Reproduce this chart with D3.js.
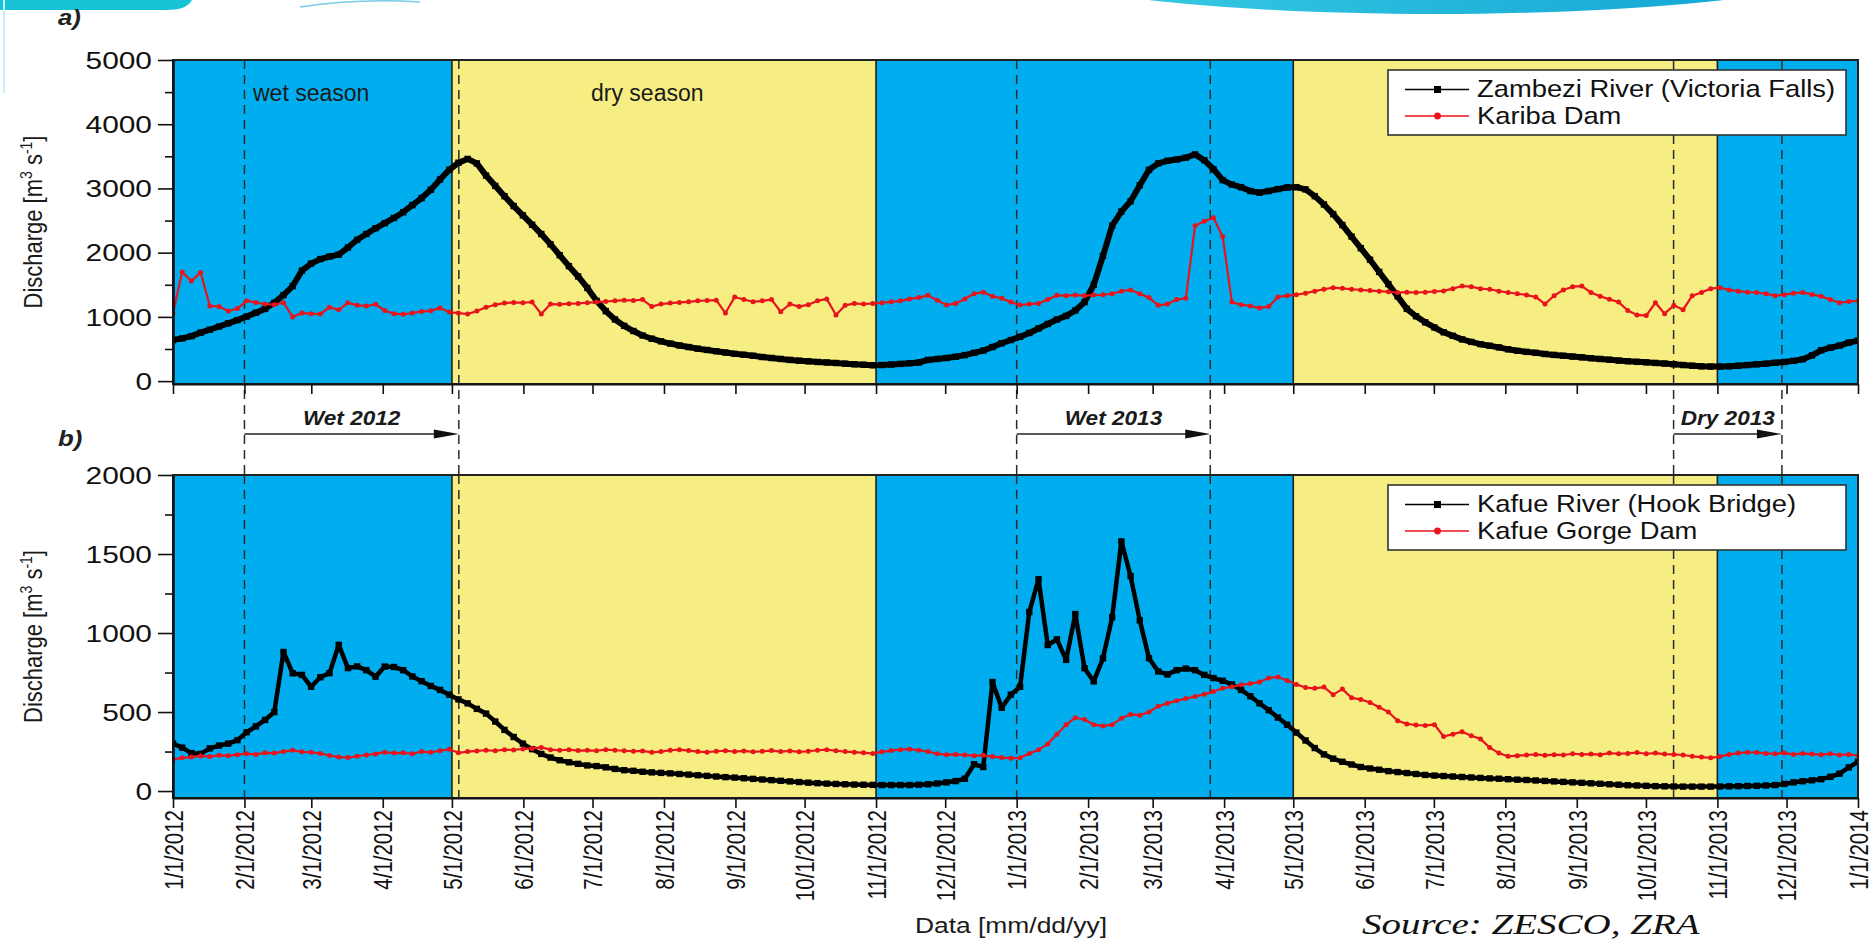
<!DOCTYPE html>
<html>
<head>
<meta charset="utf-8">
<script src="https://cdn.jsdelivr.net/npm/d3@7"></script>
<style>
  body { margin: 0; background: #fff; }
  svg { display: block; font-family: "Liberation Sans", Arial, sans-serif; }
</style>
</head>
<body>
<svg id="chart"></svg>
<script>
// Discharge [m3/s], one value every ~4 days from 1/1/2012 to 1/1/2014 (184 samples)
const zambeziQ = [
  640, 665, 700, 755, 800, 850, 900, 950, 1005, 1065,
  1125, 1220, 1340, 1480, 1720, 1830, 1900, 1940, 1970, 2080,
  2200, 2290, 2380, 2460, 2540, 2630, 2740, 2850, 2980, 3140,
  3290, 3400, 3460, 3390, 3200, 3040, 2880, 2725, 2580, 2435,
  2290, 2130, 1960, 1790, 1630, 1450, 1250, 1090, 960, 860,
  780, 710, 660, 620, 585, 555, 530, 505, 485, 465,
  445, 425, 410, 395, 375, 360, 345, 330, 318, 308,
  298, 290, 282, 272, 262, 255, 248, 250, 258, 268,
  278, 290, 330, 345, 360, 380, 405, 440, 475, 530,
  590, 640, 690, 750, 820, 890, 960, 1015, 1100, 1230,
  1500, 1950, 2420, 2640, 2800, 3050, 3290, 3390, 3430, 3450,
  3480, 3530, 3440, 3300, 3130, 3060, 3020, 2960, 2935, 2960,
  2990, 3015, 3020, 2985, 2880, 2750, 2600, 2430, 2250, 2070,
  1890, 1700, 1510, 1320, 1125, 1010, 915, 835, 760, 705,
  650, 610, 575, 550, 525, 495, 472, 455, 440, 422,
  408, 395, 382, 370, 357, 345, 333, 320, 310, 300,
  292, 283, 273, 262, 250, 240, 230, 226, 226, 230,
  240, 250, 262, 272, 285, 298, 315, 340, 400, 480,
  520, 553, 600, 630
];

const karibaQ = [
  1060, 1700, 1560, 1690, 1170, 1160, 1090, 1130, 1250, 1225,
  1200, 1190, 1220, 1000, 1060, 1050, 1045, 1150, 1110, 1220,
  1180, 1170, 1195, 1100, 1050, 1040, 1060, 1085, 1095, 1140,
  1075, 1060, 1045, 1090, 1150, 1190, 1215, 1225, 1220, 1230,
  1045, 1200, 1195, 1205, 1210, 1220, 1230, 1240, 1250, 1260,
  1255, 1270, 1160, 1200, 1215, 1225, 1235, 1250, 1255, 1260,
  1060, 1310, 1270, 1235, 1250, 1270, 1080, 1200, 1160, 1190,
  1250, 1280, 1030, 1180, 1210, 1200, 1210, 1220, 1235, 1250,
  1280, 1300, 1335, 1260, 1185, 1210, 1280, 1360, 1385, 1320,
  1290, 1230, 1185, 1200, 1210, 1270, 1335, 1330, 1340, 1330,
  1340, 1345, 1360, 1400, 1420, 1360, 1300, 1180, 1200, 1270,
  1290, 2420, 2490, 2545, 2250, 1230, 1190, 1170, 1140, 1160,
  1310, 1330, 1345, 1370, 1400, 1430, 1455, 1445, 1430, 1420,
  1410, 1400, 1390, 1380, 1385, 1380, 1385, 1395, 1405, 1440,
  1480, 1470, 1440, 1430, 1400, 1380, 1360, 1340, 1310, 1200,
  1330, 1420, 1470, 1480, 1380, 1320, 1275, 1230, 1100, 1030,
  1020, 1220, 1050, 1180, 1110, 1330, 1380, 1440, 1455, 1420,
  1400, 1385, 1380, 1360, 1330, 1345, 1370, 1380, 1350, 1320,
  1270, 1220, 1240, 1250
];

const kafueQ = [
  300, 275, 240, 235, 270, 288, 300, 322, 372, 409,
  450, 500, 880, 745, 735, 660, 720, 746, 925, 778,
  789, 765, 724, 788, 785, 765, 725, 695, 665, 640,
  610, 580, 555, 520, 490, 440, 387, 342, 300, 265,
  235, 212, 195, 182, 172, 162, 158, 150, 140, 132,
  128, 122, 118, 115, 112, 108, 104, 100, 96, 92,
  88, 85, 81, 77, 73, 69, 65, 61, 57, 53,
  50, 47, 45, 43, 41, 40, 39, 38, 38, 38,
  38, 40, 43, 48, 55, 63, 78, 170, 152, 690,
  527, 610, 660, 1133, 1340, 924, 960, 830, 1120, 777,
  694, 840, 1100, 1580, 1360, 1080, 840, 757, 738, 765,
  775, 765, 735, 715, 698, 675, 640, 600, 555, 512,
  465, 420, 370, 320, 272, 232, 205, 185, 168, 152,
  143, 135, 126, 120, 114, 108, 102, 98, 95, 92,
  89, 86, 83, 80, 78, 75, 72, 70, 67, 64,
  61, 58, 55, 52, 49, 46, 43, 40, 37, 35,
  33, 31, 30, 29, 28, 28, 28, 28, 29, 30,
  31, 32, 33, 35, 38, 45, 55, 62, 68, 75,
  90, 110, 150, 185
];

const kafueGorgeQ = [
  200, 210, 215, 222, 218, 226, 224, 230, 236, 232,
  242, 240, 250, 258, 248, 245, 238, 225, 215, 212,
  220, 228, 235, 246, 240, 242, 236, 250, 245, 255,
  264, 242, 250, 254, 258, 255, 262, 260, 266, 270,
  276, 262, 258, 262, 256, 258, 255, 262, 258, 255,
  252, 254, 245, 250, 258, 262, 256, 250, 246, 252,
  255, 250, 254, 248, 252, 256, 250, 254, 248, 252,
  258, 262, 255, 250, 246, 242, 238, 248, 256, 262,
  265, 258, 250, 236, 230, 232, 228, 224, 226, 218,
  212, 208, 210, 238, 262, 297, 360, 420, 464, 453,
  420, 412, 420, 460, 485, 480, 500, 537, 555, 572,
  585, 598, 612, 630, 650, 660, 672, 680, 690, 715,
  722, 700, 675, 655, 650, 658, 610, 645, 590, 580,
  560, 530, 500, 445, 425, 418, 415, 420, 345, 360,
  375, 350, 330, 275, 240, 220, 224, 228, 232, 226,
  230, 228, 236, 232, 234, 230, 240, 236, 238, 244,
  236, 240, 234, 232, 228, 220, 215, 210, 218, 232,
  240, 245, 244, 238, 236, 240, 232, 238, 234, 230,
  236, 228, 232, 225
];

// Seasons shaded behind both panels
const seasonStarts = ["2012-01-01", "2012-05-01", "2012-11-01", "2013-05-01", "2013-11-01"];
const seasonEnds = ["2012-05-01", "2012-11-01", "2013-05-01", "2013-11-01", "2014-01-01"];
const seasonKinds = ["wet", "dry", "wet", "dry", "wet"];

// Study periods (dashed guides + arrows)
const periodLabels = ["Wet 2012", "Wet 2013", "Dry 2013"];
const periodStarts = ["2012-02-01", "2013-01-01", "2013-10-13"];
const periodEnds = ["2012-05-04", "2013-03-26", "2013-11-29"];

const yTicksA = [0, 1000, 2000, 3000, 4000, 5000];
const yMinorA = [500, 1500, 2500, 3500, 4500];
const yTicksB = [0, 500, 1000, 1500, 2000];
const yMinorB = [250, 750, 1250, 1750];

const WET_BLUE = "#00aeef";
const DRY_YELLOW = "#f6ed83";
const RED = "#e8141c";

// the source figure is stretched sideways, so text is widened a bit
const SX_TICK = 1.3, SX_DATE = 1.25, SX_TITLE = 1.15, SX_LEGEND = 1.14, SX_NOTE = 1.13;

const parseDate = d3.timeParse("%Y-%m-%d");
const startDate = parseDate("2012-01-01");
const endDate = parseDate("2014-01-01");
const stepMs = (endDate - startDate) / (zambeziQ.length - 1);
const toSeries = values => values.map((v, i) => ({ date: new Date(+startDate + i * stepMs), value: v }));

const seasons = seasonStarts.map((s, i) => ({ start: parseDate(s), end: parseDate(seasonEnds[i]), kind: seasonKinds[i] }));
const guideDates = periodStarts.concat(periodEnds).map(parseDate);

const x = d3.scaleTime().domain([startDate, endDate]).range([173, 1858]);

const svg = d3.select("#chart").attr("width", 1876).attr("height", 944);
svg.append("rect").attr("width", 1876).attr("height", 944).attr("fill", "#fff");

class DischargePanel {
  constructor(_config, _data) {
    this.config = {
      parentElement: _config.parentElement,
      id: _config.id,
      top: _config.top,
      bottom: _config.bottom,
      yDomain: _config.yDomain,
      yMajor: _config.yMajor,
      yMinor: _config.yMinor,
      guideBottom: _config.guideBottom,
      showDates: _config.showDates || false,
      panelLabel: _config.panelLabel,
      panelLabelY: _config.panelLabelY,
      legendTop: _config.legendTop,
      notes: _config.notes || []
    };
    this.data = _data;
    this.initVis();
  }

  initVis() {
    let vis = this;
    const c = vis.config;

    vis.y = d3.scaleLinear().domain(c.yDomain).range([c.bottom, c.top]);
    vis.left = x.range()[0];
    vis.right = x.range()[1];

    vis.g = c.parentElement.append("g").attr("class", "panel panel-" + c.id);

    vis.g.append("clipPath").attr("id", "clip-" + c.id)
      .append("rect")
      .attr("x", vis.left)
      .attr("y", c.top)
      .attr("width", vis.right - vis.left)
      .attr("height", c.bottom - c.top);

    vis.bandLayer = vis.g.append("g");
    vis.guideLayer = vis.g.append("g");
    vis.seriesLayer = vis.g.append("g").attr("clip-path", `url(#clip-${c.id})`);
    vis.frameLayer = vis.g.append("g");
    vis.legendLayer = vis.g.append("g");

    vis.line = d3.line()
      .x(d => x(d.date))
      .y(d => vis.y(d.value));

    vis.renderVis();
  }

  renderVis() {
    let vis = this;
    const c = vis.config;

    // season shading
    vis.bandLayer.selectAll(".band")
      .data(seasons)
      .join("rect")
      .attr("class", "band")
      .attr("x", d => x(d.start))
      .attr("y", c.top)
      .attr("width", d => x(d.end) - x(d.start))
      .attr("height", c.bottom - c.top)
      .attr("fill", d => d.kind === "wet" ? WET_BLUE : DRY_YELLOW);

    vis.bandLayer.selectAll(".season-edge")
      .data(seasons.slice(1))
      .join("line")
      .attr("class", "season-edge")
      .attr("x1", d => x(d.start))
      .attr("x2", d => x(d.start))
      .attr("y1", c.top)
      .attr("y2", c.bottom)
      .attr("stroke", "#1c1c1c")
      .attr("stroke-width", 1.6);

    vis.bandLayer.selectAll(".season-note")
      .data(c.notes)
      .join("text")
      .attr("class", "season-note")
      .attr("x", d => d.x)
      .attr("y", d => d.y)
      .attr("font-size", 23)
      .attr("fill", "#1a1a1a")
      .text(d => d.text);

    // dashed period guides
    vis.guideLayer.selectAll(".guide")
      .data(guideDates)
      .join("line")
      .attr("class", "guide")
      .attr("x1", d => x(d))
      .attr("x2", d => x(d))
      .attr("y1", c.top)
      .attr("y2", c.guideBottom)
      .attr("stroke", "#2a2a2a")
      .attr("stroke-width", 1.5)
      .attr("stroke-dasharray", "9,6");

    // river (black, square markers)
    vis.seriesLayer.append("path")
      .datum(vis.data.river.values)
      .attr("d", vis.line)
      .attr("fill", "none")
      .attr("stroke", "#000")
      .attr("stroke-width", vis.data.river.width)
      .attr("stroke-linejoin", "round");

    vis.seriesLayer.selectAll(".river-pt")
      .data(vis.data.river.values)
      .join("rect")
      .attr("class", "river-pt")
      .attr("x", d => x(d.date) - 3.2)
      .attr("y", d => vis.y(d.value) - 3.2)
      .attr("width", 6.4)
      .attr("height", 6.4)
      .attr("fill", "#000");

    // dam outflow (red, round markers)
    vis.seriesLayer.append("path")
      .datum(vis.data.dam.values)
      .attr("d", vis.line)
      .attr("fill", "none")
      .attr("stroke", RED)
      .attr("stroke-width", 2.2)
      .attr("stroke-linejoin", "round");

    vis.seriesLayer.selectAll(".dam-pt")
      .data(vis.data.dam.values)
      .join("circle")
      .attr("class", "dam-pt")
      .attr("cx", d => x(d.date))
      .attr("cy", d => vis.y(d.value))
      .attr("r", 2.5)
      .attr("fill", RED);

    // frame
    vis.frameLayer.append("rect")
      .attr("x", vis.left)
      .attr("y", c.top)
      .attr("width", vis.right - vis.left)
      .attr("height", c.bottom - c.top)
      .attr("fill", "none")
      .attr("stroke", "#222")
      .attr("stroke-width", 2);

    // y axis
    const yAxis = d3.axisLeft(vis.y)
      .tickValues(c.yMajor)
      .tickFormat(d3.format("d"))
      .tickSize(15)
      .tickSizeOuter(0);

    const yAxisG = vis.frameLayer.append("g")
      .attr("transform", `translate(${vis.left},0)`)
      .call(yAxis)
      .attr("font-family", null)
      .attr("font-size", 23)
      .attr("color", "#111");
    yAxisG.select(".domain").attr("stroke-width", 2.6);
    yAxisG.selectAll(".tick line").attr("stroke-width", 1.6);
    yAxisG.selectAll(".tick text")
      .attr("x", null)
      .attr("dy", "0.36em")
      .attr("transform", `translate(-21,0) scale(${SX_TICK},1)`);

    const yMinorG = vis.frameLayer.append("g")
      .attr("transform", `translate(${vis.left},0)`)
      .call(d3.axisLeft(vis.y).tickValues(c.yMinor).tickSize(8).tickFormat(""))
      .attr("color", "#111");
    yMinorG.select(".domain").remove();
    yMinorG.selectAll(".tick line").attr("stroke-width", 1.6);

    // x axis, one tick per month
    const xAxis = d3.axisBottom(x)
      .ticks(d3.timeMonth.every(1))
      .tickSize(10)
      .tickSizeOuter(0)
      .tickFormat(c.showDates ? d3.timeFormat("%-m/%-d/%Y") : "");

    const xAxisG = vis.frameLayer.append("g")
      .attr("transform", `translate(0,${c.bottom})`)
      .call(xAxis)
      .attr("font-family", null)
      .attr("font-size", 20.5)
      .attr("color", "#111");
    xAxisG.select(".domain").attr("stroke-width", 2.2);
    xAxisG.selectAll(".tick line").attr("stroke-width", 1.6);
    xAxisG.selectAll(".tick text")
      .attr("x", 0)
      .attr("y", 0)
      .attr("dy", "0.36em")
      .attr("text-anchor", "end")
      .attr("transform", `translate(0,12) scale(${SX_DATE},1) rotate(-90)`);

    // y title
    const midY = (c.top + c.bottom) / 2;
    const title = vis.frameLayer.append("text")
      .attr("transform", `translate(42,${midY}) scale(${SX_TITLE},1) rotate(-90)`)
      .attr("text-anchor", "middle")
      .attr("font-size", 22)
      .attr("fill", "#1a1a1a");
    title.append("tspan").text("Discharge [m");
    title.append("tspan").attr("font-size", 14).attr("dy", -9).text("3");
    title.append("tspan").attr("dy", 9).text(" s");
    title.append("tspan").attr("font-size", 14).attr("dy", -9).text("-1");
    title.append("tspan").attr("dy", 9).text("]");

    // panel letter
    vis.frameLayer.append("text")
      .attr("transform", `translate(58,${c.panelLabelY}) scale(1.12,1)`)
      .attr("font-size", 23)
      .attr("font-weight", "bold")
      .attr("font-style", "italic")
      .attr("fill", "#222")
      .text(c.panelLabel);

    vis.renderLegend();
  }

  renderLegend() {
    let vis = this;
    const top = vis.config.legendTop;
    const entries = [
      { name: vis.data.river.name, color: "#000", shape: "square" },
      { name: vis.data.dam.name, color: RED, shape: "circle" }
    ];

    vis.legendLayer.append("rect")
      .attr("x", 1388)
      .attr("y", top)
      .attr("width", 458)
      .attr("height", 65)
      .attr("fill", "#fff")
      .attr("stroke", "#333")
      .attr("stroke-width", 1.6);

    const row = vis.legendLayer.selectAll(".legend-row")
      .data(entries)
      .join("g")
      .attr("class", "legend-row")
      .attr("transform", (d, i) => `translate(0,${top + 27 + i * 26.5})`);

    row.append("line")
      .attr("x1", 1405)
      .attr("x2", 1469)
      .attr("y1", -7.5)
      .attr("y2", -7.5)
      .attr("stroke", d => d.color)
      .attr("stroke-width", 1.6);

    row.filter(d => d.shape === "square").append("rect")
      .attr("x", 1434)
      .attr("y", -11)
      .attr("width", 7)
      .attr("height", 7)
      .attr("fill", "#000");

    row.filter(d => d.shape === "circle").append("circle")
      .attr("cx", 1437.5)
      .attr("cy", -7.5)
      .attr("r", 3.4)
      .attr("fill", RED);

    row.append("text")
      .attr("transform", `translate(1477,0) scale(${SX_LEGEND},1)`)
      .attr("font-size", 24)
      .attr("fill", "#111")
      .text(d => d.name);
  }
}

// slide decoration cut off at the top edge
const deco = svg.append("g").attr("class", "slide-deco");
const grad = svg.append("defs").append("linearGradient").attr("id", "cyan-grad");
grad.append("stop").attr("offset", "0%").attr("stop-color", "#3fd0e4");
grad.append("stop").attr("offset", "100%").attr("stop-color", "#0a9fd3");
deco.append("path")
  .attr("d", "M0,0 H192 C188,7 180,10 166,10 H0 Z")
  .attr("fill", "#17c2d6");
deco.append("ellipse")
  .attr("cx", 1436).attr("cy", -46).attr("rx", 447).attr("ry", 60)
  .attr("fill", "url(#cyan-grad)");
deco.append("path")
  .attr("d", "M300,7 Q360,-2 420,2")
  .attr("fill", "none").attr("stroke", "#7ccbe6").attr("stroke-width", 1.5);
deco.append("line")
  .attr("x1", 4).attr("x2", 4).attr("y1", 0).attr("y2", 93)
  .attr("stroke", "#c6f0f6").attr("stroke-width", 2);

const panelA = new DischargePanel({
  parentElement: svg,
  id: "a",
  top: 60,
  bottom: 384,
  yDomain: [-45, 5000],
  yMajor: yTicksA,
  yMinor: yMinorA,
  guideBottom: 475,
  panelLabel: "a)",
  panelLabelY: 25,
  legendTop: 70,
  notes: [{ text: "wet season", x: 253, y: 101 }, { text: "dry season", x: 591, y: 101 }]
}, {
  river: { name: "Zambezi River (Victoria Falls)", values: toSeries(zambeziQ), width: 6 },
  dam: { name: "Kariba Dam", values: toSeries(karibaQ) }
});

const panelB = new DischargePanel({
  parentElement: svg,
  id: "b",
  top: 475,
  bottom: 798,
  yDomain: [-44, 2000],
  yMajor: yTicksB,
  yMinor: yMinorB,
  guideBottom: 798,
  showDates: true,
  panelLabel: "b)",
  panelLabelY: 446,
  legendTop: 485
}, {
  river: { name: "Kafue River (Hook Bridge)", values: toSeries(kafueQ), width: 4.5 },
  dam: { name: "Kafue Gorge Dam", values: toSeries(kafueGorgeQ) }
});

// period arrows between the panels
const periods = periodLabels.map((label, i) => ({ label, start: parseDate(periodStarts[i]), end: parseDate(periodEnds[i]) }));
const arrowY = 434;
const periodG = svg.append("g").attr("class", "periods");

periodG.selectAll(".period-line")
  .data(periods)
  .join("line")
  .attr("class", "period-line")
  .attr("x1", d => x(d.start))
  .attr("x2", d => x(d.end) - 20)
  .attr("y1", arrowY)
  .attr("y2", arrowY)
  .attr("stroke", "#222")
  .attr("stroke-width", 1.6);

periodG.selectAll(".period-head")
  .data(periods)
  .join("path")
  .attr("class", "period-head")
  .attr("d", d => `M${x(d.end)},${arrowY} l-25,-4.5 l0,9 Z`)
  .attr("fill", "#111");

periodG.selectAll(".period-label")
  .data(periods)
  .join("text")
  .attr("class", "period-label")
  .attr("transform", d => `translate(${(x(d.start) + x(d.end)) / 2},425) scale(${SX_NOTE},1)`)
  .attr("text-anchor", "middle")
  .attr("font-size", 20)
  .attr("font-weight", "bold")
  .attr("font-style", "italic")
  .attr("fill", "#1a1a1a")
  .text(d => d.label);

// x axis title
svg.append("text")
  .attr("transform", `translate(1011,933) scale(1.2,1)`)
  .attr("text-anchor", "middle")
  .attr("font-size", 22)
  .attr("fill", "#1a1a1a")
  .text("Data [mm/dd/yy]");

// slide footnote in the bottom-right corner
svg.append("text")
  .attr("transform", `translate(1362,934) scale(1.3,1)`)
  .attr("font-family", "'Liberation Serif', serif")
  .attr("font-style", "italic")
  .attr("font-size", 30)
  .attr("fill", "#111")
  .text("Source: ZESCO, ZRA");
</script>
</body>
</html>
